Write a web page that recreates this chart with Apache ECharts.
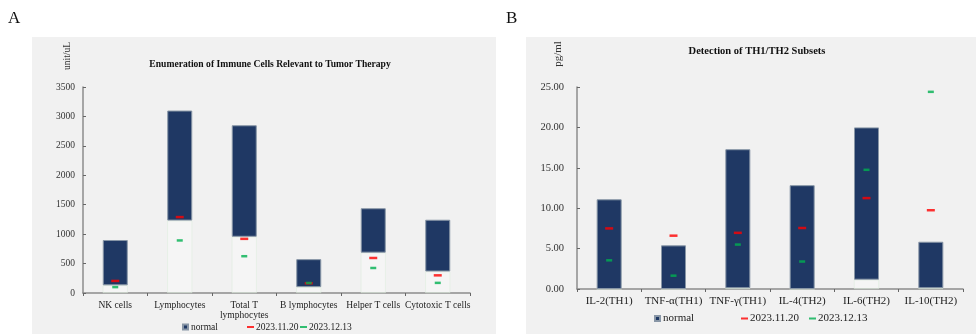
<!DOCTYPE html>
<html><head><meta charset="utf-8">
<script src="https://cdn.jsdelivr.net/npm/echarts@6/dist/echarts.min.js"></script>
<style>html,body{margin:0;padding:0;background:#fff}#c{width:976px;height:334px}</style>
</head><body><div id="c"></div>
<script>
// Panel A
const cellCats = ['NK cells', 'Lymphocytes', 'Total T\nlymphocytes', 'B lymphocytes', 'Helper T cells', 'Cytotoxic T cells'];
const cellNormLow = [130, 1230, 955, 100, 685, 365];
const cellNormHigh = [900, 3100, 2850, 575, 1440, 1245];
const cellNov20 = [205, 1290, 920, 165, 595, 300];
const cellDec13 = [100, 893, 625, 170, 425, 172];
const cellTicks = [0, 500, 1000, 1500, 2000, 2500, 3000, 3500];
// Panel B
const cytoCats = ['IL-2(TH1)', 'TNF-α(TH1)', 'TNF-γ(TH1)', 'IL-4(TH2)', 'IL-6(TH2)', 'IL-10(TH2)'];
const cytoNormLow = [0, 0, 0.1, 0, 1.15, 0.1];
const cytoNormHigh = [11.1, 5.4, 17.3, 12.85, 20.0, 5.85];
const cytoNov20 = [7.5, 6.6, 6.95, 7.55, 11.25, 9.75];
const cytoDec13 = [3.55, 1.65, 5.5, 3.4, 14.75, 24.4];
const cytoTicks = [0, 5, 10, 15, 20, 25];

const FONT = '"Liberation Serif", "Times New Roman", serif';
const NAVY = '#1f3864';
const RED = '#ff0000';
const GREEN = '#00b050';
const chart = echarts.init(document.getElementById('c'));

const diff = (hi, lo) => hi.map((v, i) => +(v - lo[i]).toFixed(3));

function xAxis(gi, cats, fs) {
  return {
    type: 'category', gridIndex: gi, data: cats,
    axisLine: { lineStyle: { color: '#8c8c8c', width: 1.5 } },
    axisTick: { show: true, length: 3, lineStyle: { color: '#666' } },
    axisLabel: { fontFamily: FONT, fontSize: fs, color: '#222', margin: 7, interval: 0, lineHeight: 10 }
  };
}
function yAxis(gi, ticks, dec, fs, margin) {
  return {
    type: 'value', gridIndex: gi, min: ticks[0], max: ticks[ticks.length - 1],
    interval: ticks[1] - ticks[0],
    axisLine: { show: true, lineStyle: { color: '#8c8c8c', width: 1.5 } },
    axisTick: { show: true, inside: true, length: 3, lineStyle: { color: '#666' } },
    splitLine: { show: false },
    axisLabel: { fontFamily: FONT, fontSize: fs, color: '#333', margin: margin,
      formatter: v => dec ? v.toFixed(2) : String(v) }
  };
}
function seriesFor(gi, lo, hi, r, g, stackId) {
  return [
    { name: 'base', type: 'bar', xAxisIndex: gi, yAxisIndex: gi, stack: stackId, barWidth: 25,
      data: lo, silent: true,
      itemStyle: { color: 'rgba(255,255,255,0.3)', borderColor: 'rgba(220,236,220,0.9)', borderWidth: 0.6 } },
    { name: 'normal', type: 'bar', xAxisIndex: gi, yAxisIndex: gi, stack: stackId, barWidth: 25,
      data: diff(hi, lo),
      itemStyle: { color: NAVY, borderColor: '#8896a6', borderWidth: 1 } },
    { name: '2023.11.20', type: 'scatter', xAxisIndex: gi, yAxisIndex: gi, data: r,
      symbol: 'rect', symbolSize: [8, 2.5], itemStyle: { color: RED }, z: 5 },
    { name: '2023.12.13', type: 'scatter', xAxisIndex: gi, yAxisIndex: gi, data: g,
      symbol: 'rect', symbolSize: [6, 2.5], itemStyle: { color: GREEN }, z: 6 }
  ];
}
function legend(name, left, top, w, h, fs, pad) {
  return { data: [{ name: name, icon: 'rect' }], left: left, top: top, itemWidth: w, itemHeight: h,
    itemGap: 0, padding: 0, selectedMode: false,
    textStyle: { fontFamily: FONT, fontSize: fs, color: '#222', padding: [0, 0, 0, pad] } };
}

const option = {
  animation: false,
  backgroundColor: '#ffffff',
  graphic: [
    { type: 'rect', shape: { x: 32, y: 37, width: 464, height: 297 }, style: { fill: '#f1f1f1' }, z: -10 },
    { type: 'rect', shape: { x: 526, y: 37, width: 450, height: 297 }, style: { fill: '#f1f1f1' }, z: -10 },
    { type: 'text', left: 8, top: 10, style: { text: 'A', font: '17px ' + FONT, fill: '#111' } },
    { type: 'text', left: 506, top: 10, style: { text: 'B', font: '17px ' + FONT, fill: '#111' } },
    { type: 'text', x: 67, y: 56, rotation: Math.PI / 2,
      style: { text: 'unit/uL', font: '9.5px ' + FONT, fill: '#333', align: 'center', verticalAlign: 'middle' } },
    { type: 'text', x: 558, y: 54, rotation: Math.PI / 2,
      style: { text: 'pg/ml', font: '11px ' + FONT, fill: '#333', align: 'center', verticalAlign: 'middle' } }
  ],
  title: [
    { text: 'Enumeration of Immune Cells Relevant to Tumor Therapy', left: 270, top: 60, textAlign: 'center', padding: 0,
      textStyle: { fontFamily: FONT, fontSize: 9.6, fontWeight: 'bold', color: '#111' } },
    { text: 'Detection of TH1/TH2 Subsets', left: 757, top: 46, textAlign: 'center', padding: 0,
      textStyle: { fontFamily: FONT, fontSize: 10.5, fontWeight: 'bold', color: '#111' } }
  ],
  legend: [
    legend('normal', 182, 322, 5, 5, 9.5, -2),
    legend('2023.11.20', 247, 322, 7, 2, 9.5, -3),
    legend('2023.12.13', 300, 322, 7, 2, 9.5, -3),
    legend('normal', 654, 313, 5, 5, 11, -2),
    legend('2023.11.20', 741, 313, 7, 2, 11, -3),
    legend('2023.12.13', 809, 313, 7, 2, 11, -3)
  ],
  grid: [
    { left: 83, right: 506, top: 87, bottom: 41 },
    { left: 577, right: 13, top: 87, bottom: 45 }
  ],
  xAxis: [xAxis(0, cellCats, 9.5), xAxis(1, cytoCats, 11)],
  yAxis: [yAxis(0, cellTicks, false, 9.5, 8), yAxis(1, cytoTicks, true, 10.5, 13)],
  series: [].concat(
    seriesFor(0, cellNormLow, cellNormHigh, cellNov20, cellDec13, 'a'),
    seriesFor(1, cytoNormLow, cytoNormHigh, cytoNov20, cytoDec13, 'b')
  )
};
chart.setOption(option);
</script></body></html>
